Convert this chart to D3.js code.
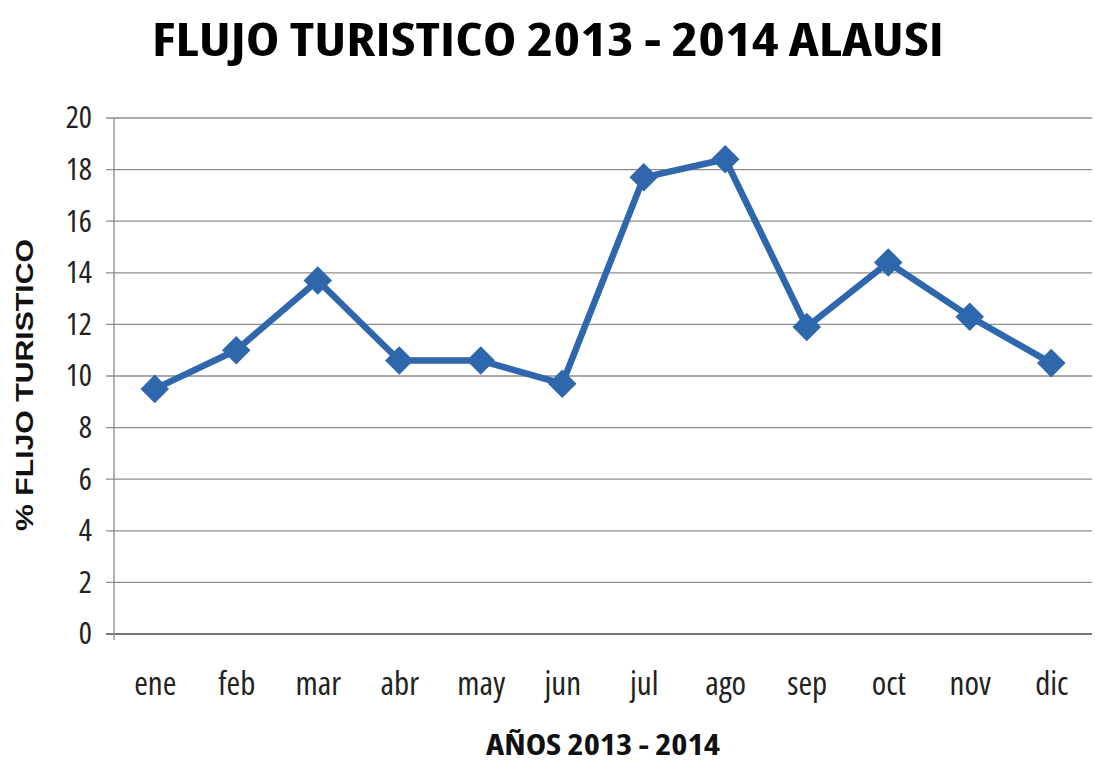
<!DOCTYPE html>
<html>
<head>
<meta charset="utf-8">
<script src="https://cdnjs.cloudflare.com/ajax/libs/d3/7.8.5/d3.min.js"></script>
<style>
body{margin:0;background:#fff}
.tick text{font-family:"Open Sans",sans-serif;font-stretch:condensed}
</style>
</head>
<body>
<div id="chart"></div>
<script>
var months = ["ene","feb","mar","abr","may","jun","jul","ago","sep","oct","nov","dic"];
var flujo = [9.5,11.0,13.7,10.6,10.6,9.7,17.7,18.4,11.9,14.4,12.3,10.5];
var yTicks = [0,2,4,6,8,10,12,14,16,18,20];

var width = 1095, height = 765;
var margin = {top:118, right:3, bottom:131, left:114};

var svg = d3.select("#chart").append("svg").attr("width",width).attr("height",height);

var x = d3.scalePoint().domain(months).range([margin.left, width-margin.right]).padding(0.5);
var y = d3.scaleLinear().domain([0,20]).range([height-margin.bottom, margin.top]);

// grid lines
svg.append("g")
	.selectAll("line")
	.data(yTicks)
	.enter().append("line")
		.attr("x1", margin.left-8)
		.attr("x2", width-margin.right)
		.attr("y1", function(d){return y(d)})
		.attr("y2", function(d){return y(d)})
		.attr("stroke", function(d){return d==0 ? "#777" : "#8c8c8c"})
		.attr("stroke-width", function(d){return d==0 ? 2 : 1.3});

// y axis line
svg.append("line")
	.attr("x1", margin.left).attr("x2", margin.left)
	.attr("y1", y(20)).attr("y2", y(0)+6)
	.attr("stroke","#8c8c8c").attr("stroke-width",1.3);

var yAxis = svg.append("g")
	.attr("transform","translate("+margin.left+",0)")
	.call(d3.axisLeft(y).tickValues(yTicks).tickSize(0).tickPadding(22));
yAxis.select(".domain").remove();
yAxis.selectAll("text").attr("font-size",31).attr("fill","#222");

var xAxis = svg.append("g")
	.attr("transform","translate(0,"+y(0)+")")
	.call(d3.axisBottom(x).tickSize(0).tickPadding(38));
xAxis.select(".domain").remove();
xAxis.selectAll("text").attr("font-size",33).attr("fill","#222");

// line
var line = d3.line()
	.x(function(d,i){return x(months[i])})
	.y(function(d){return y(d)});

svg.append("path")
	.datum(flujo)
	.attr("fill","none")
	.attr("stroke","#2f67ad")
	.attr("stroke-width",6.5)
	.attr("stroke-linejoin","round")
	.attr("d", line);

svg.append("g")
	.selectAll("path")
	.data(flujo)
	.enter().append("path")
		.attr("d", d3.symbol().type(d3.symbolDiamond2).size(520))
		.attr("transform", function(d,i){return "translate("+x(months[i])+","+y(d)+")"})
		.attr("fill","#2f67ad");

// titles
svg.append("text")
	.attr("x",548).attr("y",56)
	.attr("text-anchor","middle")
	.attr("font-family","'Open Sans',sans-serif")
	.attr("font-stretch","condensed")
	.attr("font-weight","bold")
	.attr("font-size",46)
	.attr("textLength",792).attr("lengthAdjust","spacingAndGlyphs")
	.attr("fill","#000")
	.text("FLUJO TURISTICO 2013 - 2014 ALAUSI");

svg.append("text")
	.attr("x",603).attr("y",755)
	.attr("text-anchor","middle")
	.attr("font-family","'Open Sans',sans-serif")
	.attr("font-stretch","condensed")
	.attr("font-weight","bold")
	.attr("font-size",28)
	.attr("textLength",234).attr("lengthAdjust","spacingAndGlyphs")
	.attr("fill","#111")
	.text("AÑOS 2013 - 2014");

svg.append("text")
	.attr("transform","translate(33,385) rotate(-90)")
	.attr("text-anchor","middle")
	.attr("font-family","'Liberation Sans',Arial,sans-serif")
	.attr("font-weight","bold")
	.attr("font-size",24)
	.attr("textLength",292).attr("lengthAdjust","spacingAndGlyphs")
	.attr("fill","#111")
	.text("% FLIJO TURISTICO");
</script>
</body>
</html>
